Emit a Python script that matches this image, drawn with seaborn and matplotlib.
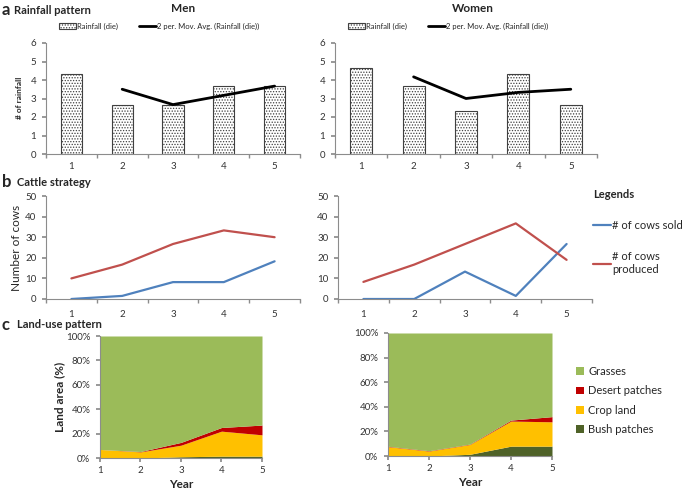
import numpy as np
import pandas as pd
import matplotlib
matplotlib.use('Agg')
import matplotlib.pyplot as plt
import seaborn as sns

years = [1, 2, 3, 4, 5]

# rainfall (a)
rain_men = [4.33, 2.67, 2.67, 3.67, 3.67]
rain_women = [4.67, 3.67, 2.33, 4.33, 2.67]
mavg_men = [3.5, 2.67, 3.17, 3.67]
mavg_women = [4.17, 3.0, 3.33, 3.5]

# cattle (b)
sold_men = [0, 1.5, 8.2, 8.2, 18.3]
prod_men = [10, 16.7, 26.7, 33.3, 30]
sold_women = [0, 0, 13.3, 1.5, 26.7]
prod_women = [8.3, 16.7, 26.7, 36.7, 19]

# land use % (c)
bush_men = [0, 0, 1, 1.5, 1.5]
crop_men = [7, 5, 9.5, 20.5, 17.5]
desert_men = [0, 0.3, 2.3, 3, 8]
grass_men = [93, 94.7, 87.2, 75, 73]
bush_women = [0, 0, 1.4, 8, 8]
crop_women = [7.6, 4, 8, 20.4, 19.8]
desert_women = [0.3, 0.3, 0.3, 0.8, 4.2]
grass_women = [92.1, 95.7, 90.3, 70.8, 68]

land_labels = ['Bush patches', 'Crop land', 'Desert patches', 'Grasses']
land_colors = ['#4f6228', '#ffc000', '#c00000', '#9bbb59']
cow_colors = ['#4f81bd', '#c0504d']

sns.set_theme(style='white')
plt.rcParams['font.family'] = ['Lato', 'DejaVu Sans']
plt.rcParams['hatch.linewidth'] = 0.6
plt.rcParams['hatch.color'] = '#555555'

W, H = 685, 492
fig = plt.figure(figsize=(W / 100, H / 100), dpi=100)

def box(l, t, r, b):
    return fig.add_axes([l / W, 1 - b / H, (r - l) / W, (b - t) / H])

def ftext(x, y, s, **kw):
    fig.text(x / W, 1 - y / H, s, **kw)

def style_axis(ax):
    for s in ['top', 'right']:
        ax.spines[s].set_visible(False)
    for s in ['left', 'bottom']:
        ax.spines[s].set_color('#8c8c8c')
        ax.spines[s].set_linewidth(0.8)
    ax.tick_params(axis='both', labelsize=7, colors='#8c8c8c', labelcolor='#333333')

def category_ticks(ax, pad):
    ax.set_xlim(-0.5, 4.5)
    ax.set_xticks(range(5))
    ax.set_xticklabels(years)
    ax.set_xticks(np.arange(-0.5, 5, 1), minor=True)
    ax.tick_params(axis='x', which='major', length=0, pad=pad)
    ax.tick_params(axis='x', which='minor', length=3, direction='out', bottom=True, color='#8c8c8c')
    ax.tick_params(axis='y', length=3, direction='out', left=True, pad=4)

# ---- a: rainfall ----
for (l, r), rain, mavg in [((46, 300), rain_men, mavg_men), ((335, 597), rain_women, mavg_women)]:
    ax = box(l, 43, r, 154)
    sns.barplot(x=years, y=rain, ax=ax, color='white', edgecolor='#404040', linewidth=0.8,
                hatch='......', width=0.42, label='Rainfall (die)')
    sns.lineplot(x=[1, 2, 3, 4], y=mavg, ax=ax, color='black', lw=2,
                 label='2 per. Mov. Avg. (Rainfall (die))')
    ax.set_ylim(0, 6)
    ax.set_yticks(range(7))
    style_axis(ax)
    category_ticks(ax, 6)
    ax.set_xlabel('')
    ax.set_ylabel('')
    handles, labels = ax.get_legend_handles_labels()
    order = [labels.index('Rainfall (die)'), labels.index('2 per. Mov. Avg. (Rainfall (die))')]
    ax.legend([handles[i] for i in order], [labels[i] for i in order],
              loc='center left', bbox_to_anchor=((l + 13) / W, 1 - 26 / H), bbox_transform=fig.transFigure,
              ncol=2, frameon=False, fontsize=5.5, handlelength=2.2, handleheight=0.9,
              columnspacing=2.7, handletextpad=0.2, borderaxespad=0, borderpad=0)

ftext(2, 10, 'a', fontsize=12, fontweight='bold', va='center')
ftext(14, 10, 'Rainfall pattern', fontsize=8, fontweight='bold', va='center')
ftext(183, 8, 'Men', fontsize=8.5, fontweight='bold', ha='center', va='center')
ftext(473, 8, 'Women', fontsize=8.5, fontweight='bold', ha='center', va='center')
ftext(20, 98, '# of rainfall', fontsize=6, fontweight='bold', rotation=90, ha='center', va='center')

# ---- b: cattle ----
for (l, r), sold, prod, show in [((46, 300), sold_men, prod_men, False),
                                 ((338, 592), sold_women, prod_women, True)]:
    ax = box(l, 196, r, 299)
    df = pd.DataFrame({
        'pos': list(range(5)) * 2,
        'cows': sold + prod,
        'series': ['# of cows sold'] * 5 + ['# of cows\nproduced'] * 5,
    })
    sns.lineplot(data=df, x='pos', y='cows', hue='series', palette=cow_colors, ax=ax, lw=1.6,
                 legend=show)
    ax.set_ylim(0, 50)
    ax.set_yticks(range(0, 51, 10))
    style_axis(ax)
    category_ticks(ax, 8)
    ax.set_xlabel('')
    ax.set_ylabel('')
    if show:
        sns.move_legend(ax, 'upper left', bbox_to_anchor=(593 / W, 1 - 189 / H),
                        bbox_transform=fig.transFigure, frameon=False, title='Legends',
                        fontsize=8, title_fontsize=8, handlelength=1.6, handletextpad=0.1,
                        labelspacing=1.8, alignment='left', borderaxespad=0, borderpad=0)
        ax.get_legend().get_title().set_fontweight('bold')

ftext(2, 182, 'b', fontsize=12, fontweight='bold', va='center')
ftext(17, 182, 'Cattle strategy', fontsize=8, fontweight='bold', va='center')
ftext(17, 248, 'Number of cows', fontsize=8.5, rotation=90, ha='center', va='center')

# ---- c: land use ----
for (l, t, r, b), series, show in [
        ((100, 336, 262, 458), [bush_men, crop_men, desert_men, grass_men], False),
        ((388, 333, 552, 456), [bush_women, crop_women, desert_women, grass_women], True)]:
    ax = box(l, t, r, b)
    polys = ax.stackplot(years, *series, colors=land_colors, labels=land_labels, lw=0)
    ax.set_xlim(1, 5)
    ax.set_ylim(0, 100)
    ax.set_xticks(years)
    ax.set_yticks(range(0, 101, 20))
    ax.set_yticklabels([f'{v}%' for v in range(0, 101, 20)])
    style_axis(ax)
    ax.tick_params(axis='x', length=3, direction='out', bottom=True, pad=3)
    ax.tick_params(axis='y', length=3, direction='out', left=True, pad=4)
    ax.set_xlabel('')
    ftext((l + r) / 2, b + 27, 'Year', fontsize=8.5, fontweight='bold', ha='center', va='center')
    if show:
        ax.legend(polys[::-1], land_labels[::-1], loc='upper left', bbox_to_anchor=(576 / W, 1 - 366 / H),
                  bbox_transform=fig.transFigure, frameon=False, fontsize=8, handlelength=0.7,
                  handleheight=0.7, handletextpad=0.4, labelspacing=0.75, borderaxespad=0, borderpad=0)

ftext(2, 325, 'c', fontsize=12, fontweight='bold', va='center')
ftext(17, 325, 'Land-use pattern', fontsize=8, fontweight='bold', va='center')
ftext(60, 397, 'Land area (%)', fontsize=8.5, fontweight='bold', rotation=90, ha='center', va='center')

fig.savefig('out.png', dpi=100)
